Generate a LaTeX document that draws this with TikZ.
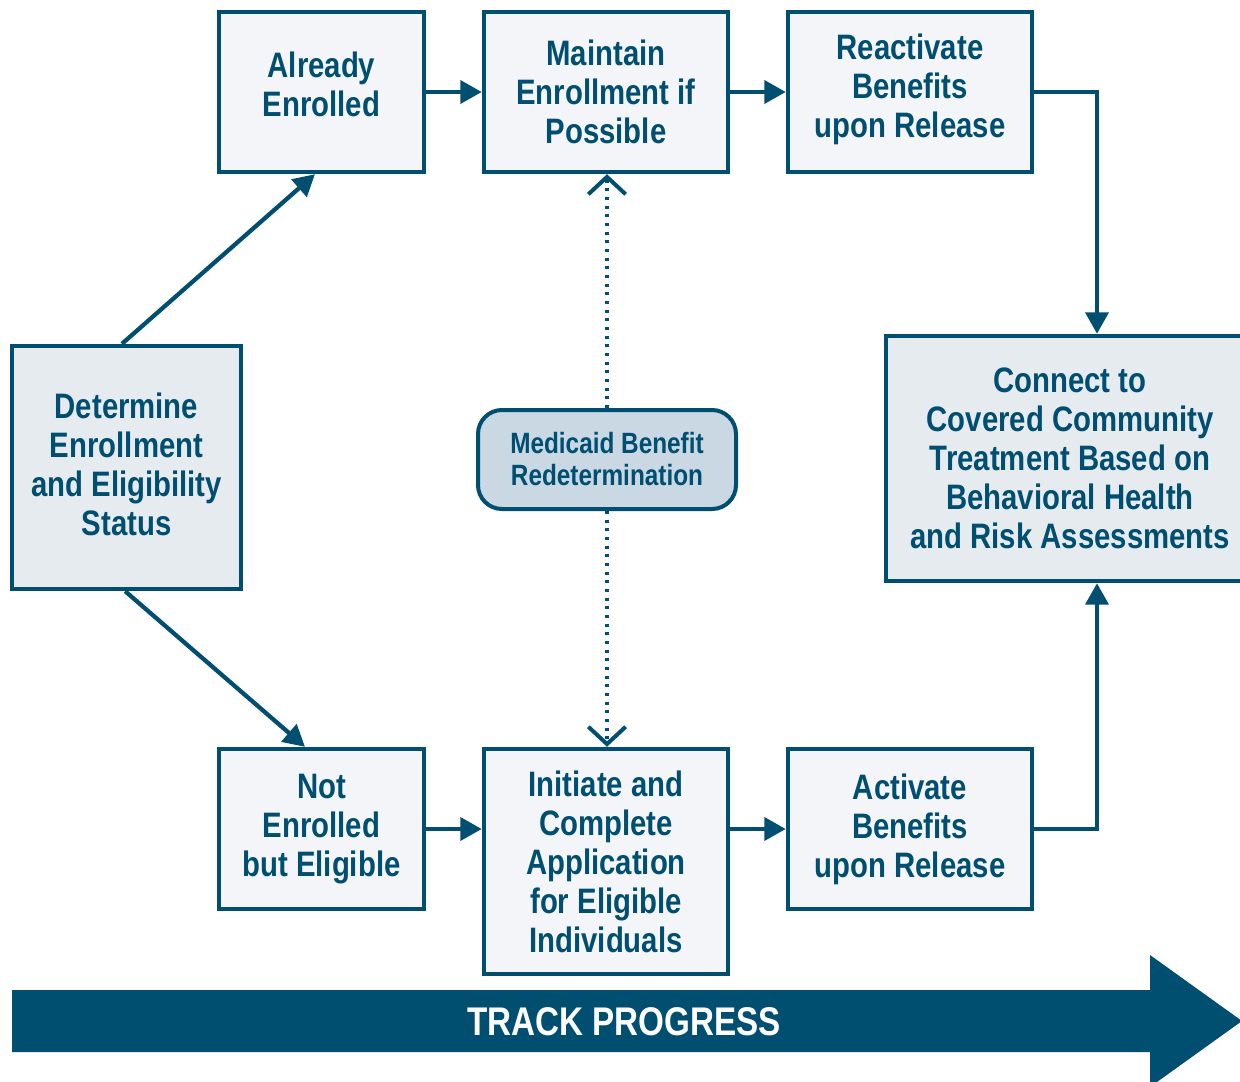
\documentclass[tikz,border=0pt]{standalone}
\usepackage{fontspec}
\setmainfont{Liberation Sans}[FakeStretch=0.83]
\usetikzlibrary{arrows.meta}
\definecolor{dkblue}{HTML}{004E70}
\definecolor{boxfill}{HTML}{F3F5F9}
\definecolor{boxfillb}{HTML}{E6EBF0}
\definecolor{medfill}{HTML}{C9D8E2}
\begin{document}
\begin{tikzpicture}[x=0.75pt,y=-0.75pt,
  boxfont/.style={align=center,text=dkblue,font=\bfseries\fontsize{26.5}{29.25}\selectfont},
  stepbox/.style={draw=dkblue,line width=3.3pt,fill=boxfill,inner sep=0pt,boxfont},
  keybox/.style={stepbox,fill=boxfillb},
  medbox/.style={draw=dkblue,line width=3pt,fill=medfill,rounded corners=18pt,inner sep=0pt,
    align=center,text=dkblue,font=\bfseries\fontsize{22}{24}\selectfont,
    minimum width=193.5pt,minimum height=74.25pt},
  conn/.style={draw=dkblue,line width=3.2pt,-{Triangle[length=16pt,width=17pt]}},
  dotconn/.style={draw=dkblue,line width=2.4pt,dash pattern=on 2.2pt off 4.3pt,
    -{Straight Barb[length=13pt,width=28pt,line width=3pt]}}]
\useasboundingbox (0,0) rectangle (1240,1082);

% track progress arrow
\fill[dkblue] (12,990) -- (1150,990) -- (1150,955) -- (1242,1021) -- (1150,1087)
  -- (1150,1052) -- (12,1052) -- cycle;
\node[text=white,font=\bfseries\fontsize{30}{32}\selectfont,inner sep=0pt] (track) at (624,1022) {TRACK PROGRESS};

% boxes
\node[stepbox,minimum width=153.75pt,minimum height=120pt,
  label={[boxfont,inner sep=0pt,yshift=5.5pt]center:Already\\Enrolled}] (ae) at (321.5,92) {};
\node[stepbox,minimum width=183pt,minimum height=120pt] (mt) at (606,92) {Maintain\\Enrollment if\\Possible};
\node[stepbox,minimum width=183pt,minimum height=120pt,
  label={[boxfont,inner sep=0pt,yshift=1.8pt]center:Reactivate\\Benefits\\upon Release}] (ra) at (910,92) {};
\node[keybox,minimum width=171.75pt,minimum height=182.25pt,
  label={[boxfont,inner sep=0pt,yshift=2.5pt]center:Determine\\Enrollment\\and Eligibility\\Status}] (det) at (126.5,467.5) {};
\node[keybox,minimum width=276pt,minimum height=183.75pt] (cn) at (1070,458.5) {Connect to\\Covered Community\\Treatment Based on\\Behavioral Health\\and Risk Assessments};
\node[stepbox,minimum width=153.75pt,minimum height=120pt] (ne) at (321.5,829) {Not\\Enrolled\\but Eligible};
\node[stepbox,minimum width=183pt,minimum height=168.75pt] (ini) at (606,861.5) {Initiate and\\Complete\\Application\\for Eligible\\Individuals};
\node[stepbox,minimum width=183pt,minimum height=120pt] (act) at (910,829) {Activate\\Benefits\\upon Release};
\node[medbox] (med) at (607,459.5) {Medicaid Benefit\\Redetermination};

% connectors
\draw[conn] ([xshift=-3.4pt]det.north) -- ([xshift=-4.9pt]ae.south);
\draw[conn] ([xshift=-1pt]det.south) -- ([xshift=-12.4pt]ne.north);
\draw[conn] (ae.east) -- (mt.west);
\draw[conn] (mt.east) -- (ra.west);
\draw[conn] (ne.east) -- (ini.west |- ne.east);
\draw[conn] (ini.east |- act.west) -- (act.west);
\draw[conn] (ra.east) -| ([xshift=20.25pt]cn.north);
\draw[conn] (act.east) -| ([xshift=20.25pt]cn.south);
\draw[dotconn] (med.north) -- (med.north |- mt.south);
\draw[dotconn] (med.south) -- (med.south |- ini.north);
\end{tikzpicture}
\end{document}
